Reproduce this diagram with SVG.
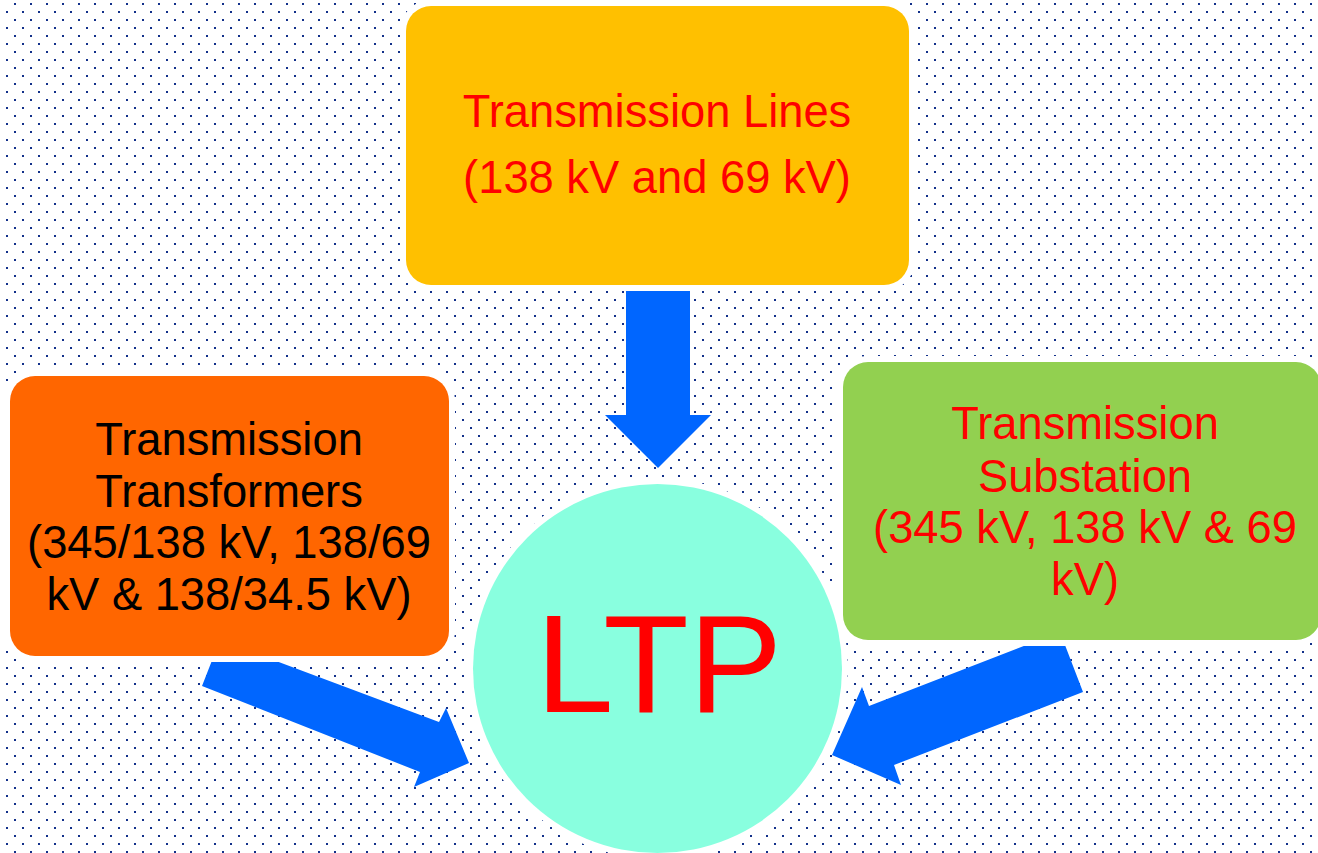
<svg xmlns="http://www.w3.org/2000/svg" width="1318" height="853" viewBox="0 0 1318 853">
  <defs>
    <pattern id="dots" x="0" y="0" width="16" height="16" patternUnits="userSpaceOnUse">
      <rect x="14" y="3" width="2" height="2" fill="#12308a"/>
      <rect x="6" y="11" width="2" height="2" fill="#12308a"/>
    </pattern>
  </defs>
  <style>
    .box { stroke: #ffffff; stroke-width: 12; paint-order: stroke; }
    .arrow { fill: #0066ff; }
    .lbl { font-family: "Liberation Sans", Arial, sans-serif; font-size: 45.3px; text-anchor: middle; }
    .red { fill: #ff0000; }
    .blk { fill: #000000; }
  </style>
  <rect x="0" y="0" width="1318" height="853" fill="#ffffff"/>
  <rect x="0" y="0" width="1318" height="853" fill="url(#dots)"/>

  <g id="connectors">
    <polygon class="arrow" points="626,280 690,280 690,415 711,415 658,468 605,415 626,415"/>
    <polygon class="arrow" points="202,686 220,640 439,722 446,708 469,763 414,787 420,772"/>
    <polygon class="arrow" points="1060,632 1083,692 894,765 901,785 832,755 862,687 869,706"/>
  </g>

  <g id="node-lines">
    <rect class="box" x="406" y="6" width="503" height="279" rx="25" fill="#ffc000"/>
    <text class="lbl red" x="657" y="127">Transmission Lines</text>
    <text class="lbl red" x="657" y="193">(138 kV and 69 kV)</text>
  </g>

  <g id="node-transformers">
    <rect class="box" x="10" y="376" width="439" height="280" rx="25" fill="#ff6600"/>
    <text class="lbl blk" x="229" y="455">Transmission</text>
    <text class="lbl blk" x="229" y="507">Transformers</text>
    <text class="lbl blk" x="229" y="558">(345/138 kV, 138/69</text>
    <text class="lbl blk" x="229" y="610">kV &amp; 138/34.5 kV)</text>
  </g>

  <g id="node-substation">
    <rect class="box" x="843" y="362" width="478" height="278" rx="25" fill="#92d050"/>
    <text class="lbl red" x="1085" y="439">Transmission</text>
    <text class="lbl red" x="1085" y="492">Substation</text>
    <text class="lbl red" x="1085" y="543">(345 kV, 138 kV &amp; 69</text>
    <text class="lbl red" x="1085" y="595">kV)</text>
  </g>

  <g id="node-ltp">
    <circle class="box" cx="657.5" cy="668.5" r="184.5" fill="#89ffdf"/>
    <text x="659" y="712" font-family="'Liberation Sans', Arial, sans-serif" font-size="140" text-anchor="middle" fill="#ff0000">LTP</text>
  </g>
</svg>
